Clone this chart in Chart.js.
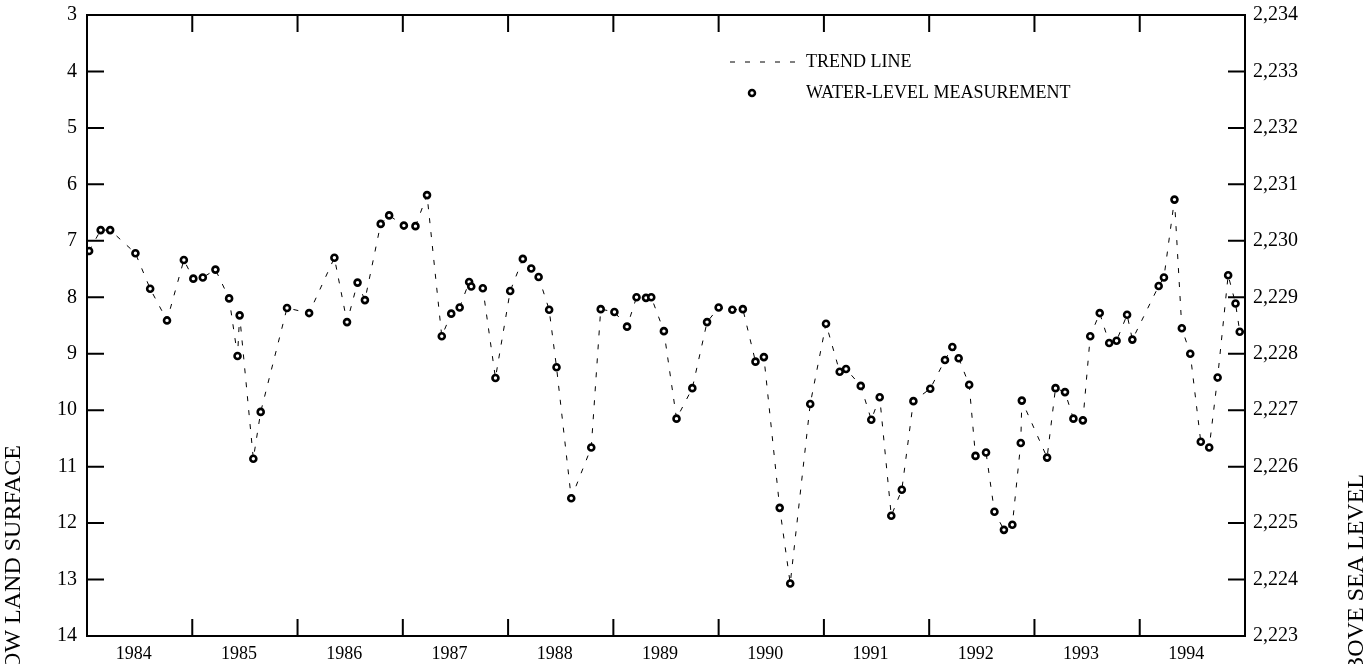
<!DOCTYPE html>
<html>
<head>
<meta charset="utf-8">
<script src="https://cdn.jsdelivr.net/npm/chart.js@4.4.1/dist/chart.umd.min.js"></script>
<style>
  html, body { margin: 0; padding: 0; background: #fff; }
  #wrap { width: 1369px; height: 664px; position: relative; }
</style>
</head>
<body>
<div id="wrap"><canvas id="hydro"></canvas></div>
<script>
// fechas de medición (año decimal) y profundidad al agua (pies bajo la superficie)
const measureDates = [
  1984.02, 1984.13, 1984.22, 1984.46, 1984.60, 1984.76, 1984.92,
  1985.01, 1985.10, 1985.22, 1985.35, 1985.43, 1985.45, 1985.58, 1985.65, 1985.90,
  1986.11, 1986.35, 1986.47, 1986.57, 1986.64, 1986.79, 1986.87,
  1987.01, 1987.12, 1987.23, 1987.37, 1987.46, 1987.54, 1987.63, 1987.65, 1987.76, 1987.88,
  1988.02, 1988.14, 1988.22, 1988.29, 1988.39, 1988.46, 1988.60, 1988.79, 1988.88,
  1989.01, 1989.13, 1989.22, 1989.31, 1989.36, 1989.48, 1989.60, 1989.75, 1989.89,
  1990.00, 1990.13, 1990.23, 1990.35, 1990.43, 1990.58, 1990.68, 1990.87,
  1991.02, 1991.15, 1991.21, 1991.35, 1991.45, 1991.53, 1991.64, 1991.74, 1991.85,
  1992.01, 1992.15, 1992.22, 1992.28, 1992.38, 1992.44, 1992.54, 1992.62, 1992.71, 1992.79, 1992.87, 1992.88,
  1993.12, 1993.20, 1993.29, 1993.37, 1993.46, 1993.53, 1993.62, 1993.71, 1993.78, 1993.88, 1993.93,
  1994.18, 1994.23, 1994.33, 1994.40, 1994.48, 1994.58, 1994.66, 1994.74, 1994.84, 1994.91, 1994.95
];
const depthToWater = [
  7.18, 6.81, 6.81, 7.22, 7.85, 8.41, 7.34,
  7.67, 7.65, 7.51, 8.02, 9.04, 8.32, 10.86, 10.03, 8.19,
  8.28, 7.30, 8.44, 7.74, 8.05, 6.70, 6.55,
  6.73, 6.74, 6.19, 8.69, 8.29, 8.18, 7.73, 7.81, 7.84, 9.43,
  7.89, 7.32, 7.49, 7.64, 8.22, 9.24, 11.56, 10.66, 8.21,
  8.26, 8.52, 8.00, 8.01, 8.00, 8.60, 10.15, 9.61, 8.44,
  8.18, 8.22, 8.21, 9.14, 9.06, 11.73, 13.07, 9.89,
  8.47, 9.32, 9.27, 9.57, 10.17, 9.77, 11.87, 11.41, 9.84,
  9.62, 9.11, 8.88, 9.08, 9.55, 10.81, 10.75, 11.80, 12.12, 12.03, 10.58, 9.83,
  10.84, 9.61, 9.68, 10.15, 10.18, 8.69, 8.28, 8.81, 8.77, 8.31, 8.75,
  7.80, 7.65, 6.27, 8.55, 9.00, 10.56, 10.66, 9.42, 7.61, 8.11, 8.61
];
const yearLabels = [1984, 1985, 1986, 1987, 1988, 1989, 1990, 1991, 1992, 1993, 1994];
const depthTicks = [3, 4, 5, 6, 7, 8, 9, 10, 11, 12, 13, 14];
const altitudeTicks = [2223, 2224, 2225, 2226, 2227, 2228, 2229, 2230, 2231, 2232, 2233, 2234];

const FONT = '"Liberation Serif", "Times New Roman", serif';

const points = measureDates.map((d, i) => ({ x: d, y: depthToWater[i] }));

/* marco con marcas hacia adentro, títulos de ejes y leyenda */
const framePlugin = {
  id: 'framePlugin',
  afterDraw(chart) {
    const ctx = chart.ctx;
    const { left, right, top, bottom } = chart.chartArea;
    const xs = chart.scales.x, ys = chart.scales.y;
    const tick = 17;
    ctx.save();
    ctx.strokeStyle = '#000';
    ctx.lineWidth = 2;
    ctx.strokeRect(left, top, right - left, bottom - top);
    ctx.beginPath();
    for (let yr = yearLabels[0] + 1; yr <= yearLabels[yearLabels.length - 1]; yr++) {
      const px = xs.getPixelForValue(yr);
      ctx.moveTo(px, bottom); ctx.lineTo(px, bottom - tick);
      ctx.moveTo(px, top); ctx.lineTo(px, top + tick);
    }
    depthTicks.slice(1, -1).forEach(d => {
      const py = ys.getPixelForValue(d);
      ctx.moveTo(left, py); ctx.lineTo(left + tick, py);
      ctx.moveTo(right, py); ctx.lineTo(right - tick, py);
    });
    ctx.stroke();

    // títulos de ejes (cortados por el borde inferior como en el original)
    ctx.fillStyle = '#000';
    ctx.font = '24px ' + FONT;
    ctx.textBaseline = 'middle';
    ctx.textAlign = 'right';
    ctx.save();
    ctx.translate(14, 445);
    ctx.rotate(-Math.PI / 2);
    ctx.fillText('DEPTH TO WATER LEVEL, IN FEET BELOW LAND SURFACE', 0, 0);
    ctx.restore();
    ctx.save();
    ctx.translate(1357, 474);
    ctx.rotate(-Math.PI / 2);
    ctx.fillText('ALTITUDE OF WATER LEVEL, IN FEET ABOVE SEA LEVEL', 0, 0);
    ctx.restore();

    // leyenda
    ctx.font = '18px ' + FONT;
    ctx.lineWidth = 1;
    ctx.setLineDash([5, 10]);
    ctx.beginPath();
    ctx.moveTo(730, 62); ctx.lineTo(797, 62);
    ctx.stroke();
    ctx.setLineDash([]);
    ctx.lineWidth = 2.5;
    ctx.fillStyle = '#fff';
    ctx.beginPath();
    ctx.arc(752, 93, 3, 0, Math.PI * 2);
    ctx.fill(); ctx.stroke();
    ctx.fillStyle = '#000';
    ctx.textAlign = 'left';
    ctx.fillText('TREND LINE', 806, 62);
    ctx.fillText('WATER-LEVEL MEASUREMENT', 806, 93);
    ctx.restore();
  }
};

const noPad = scale => {
  scale.paddingTop = 0; scale.paddingBottom = 0;
  scale.paddingLeft = 0; scale.paddingRight = 0;
};

new Chart(document.getElementById('hydro'), {
  type: 'scatter',
  data: {
    datasets: [{
      label: 'WATER-LEVEL MEASUREMENT',
      data: points,
      showLine: true,
      borderColor: '#000',
      borderWidth: 1,
      borderDash: [5, 9],
      pointRadius: 3,
      pointBorderWidth: 2.6,
      pointBackgroundColor: '#fff',
      pointBorderColor: '#000',
      tension: 0
    }]
  },
  options: {
    responsive: true,
    maintainAspectRatio: false,
    animation: false,
    layout: { padding: { top: 15, left: 0, right: 0, bottom: 0 } },
    plugins: { legend: { display: false }, tooltip: { enabled: false } },
    scales: {
      x: {
        type: 'linear',
        min: 1984, max: 1995,
        grid: { display: false, drawTicks: false },
        border: { display: false },
        afterBuildTicks: scale => { scale.ticks = yearLabels.map(v => ({ value: v + 0.5 })); },
        afterFit: scale => { scale.height = 28; noPad(scale); },
        ticks: {
          autoSkip: false,
          maxRotation: 0,
          padding: 7,
          labelOffset: -6,
          color: '#000',
          font: { family: FONT, size: 18 },
          callback: v => String(Math.floor(v))
        }
      },
      y: {
        position: 'left',
        reverse: true,
        min: 3, max: 14,
        grid: { display: false, drawTicks: false },
        border: { display: false },
        afterBuildTicks: scale => { scale.ticks = depthTicks.map(v => ({ value: v })); },
        afterFit: scale => { scale.width = 87; noPad(scale); },
        ticks: {
          padding: 10,
          color: '#000',
          font: { family: FONT, size: 20 }
        }
      },
      y2: {
        position: 'right',
        min: 2223, max: 2234,
        grid: { display: false, drawTicks: false },
        border: { display: false },
        afterBuildTicks: scale => { scale.ticks = altitudeTicks.map(v => ({ value: v })); },
        afterFit: scale => { scale.width = 124; noPad(scale); },
        ticks: {
          padding: 8,
          color: '#000',
          font: { family: FONT, size: 20 },
          callback: v => v.toLocaleString('en-US')
        }
      }
    }
  },
  plugins: [framePlugin]
});
</script>
</body>
</html>
